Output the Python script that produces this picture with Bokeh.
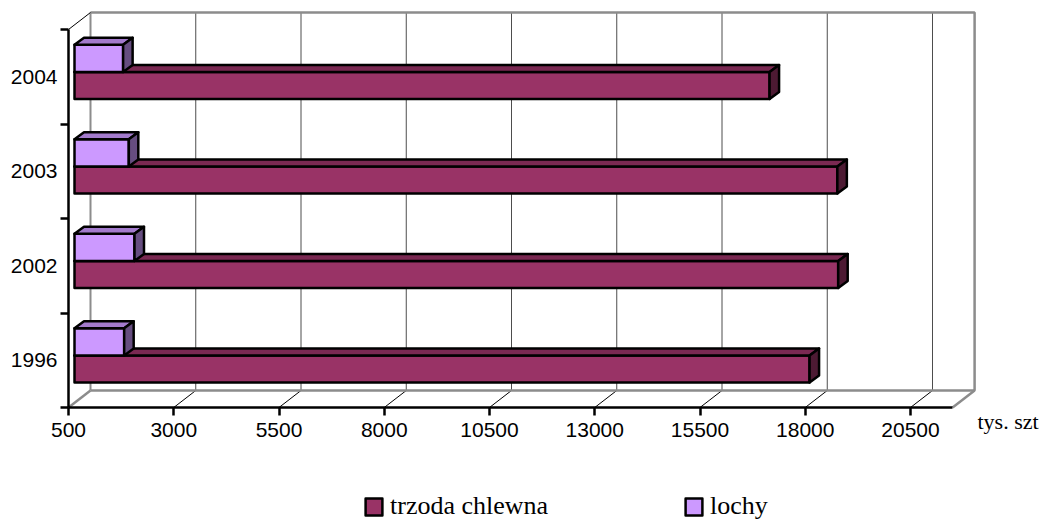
from bokeh.plotting import figure
from bokeh.embed import file_html
from bokeh.resources import INLINE
from bokeh.models import Range1d, LinearAxis, FixedTicker, Legend, LegendItem, Label

years = ["1996", "2002", "2003", "2004"]
trzoda = [17960, 18640, 18620, 17010]
lochy = [1680, 1925, 1790, 1655]
x_ticks = [500, 3000, 5500, 8000, 10500, 13000, 15500, 18000, 20500]
x_labels = ["500", "3000", "5500", "8000", "10500", "13000", "15500", "18000", "20500"]
x_min, x_max = 500, 21500

W, H = 1043, 519
ux = 0.0421   # px per value unit
uy = 94.5     # px per category
ax_x, ax_y = 68, 407   # canvas position of the axes origin

wall_dx, wall_dy = 22 / ux, 17 / uy
bar_dx, bar_dy = 9.5 / ux, 7 / uy
bar_off = 6 / ux    # the bars stand a little way into the depth of the chart
b0, b1, b2 = 0.265, 0.55, 0.838

p = figure(width=W, height=H, output_backend="svg", toolbar_location=None,
           x_range=Range1d(x_min - ax_x / ux, x_min + (W - ax_x) / ux),
           y_range=Range1d(-(H - ax_y) / uy, ax_y / uy),
           x_axis_location=None, y_axis_location=None, min_border=0)
p.xgrid.visible = False
p.ygrid.visible = False
p.outline_line_color = None

GRAY = "#8c8c8c"
# grid lines on the back wall + thin floor connectors
gx = x_ticks[1:]
p.segment([v + wall_dx for v in gx], [wall_dy] * len(gx), [v + wall_dx for v in gx], [4 + wall_dy] * len(gx),
          line_color="#4d4d4d", line_width=1)
p.segment(gx, [0] * len(gx), [v + wall_dx for v in gx], [wall_dy] * len(gx), line_color="black", line_width=1)
# walls
p.line([x_min + wall_dx, x_min + wall_dx], [wall_dy, 4 + wall_dy], line_color=GRAY, line_width=2)
p.line([x_min + wall_dx, x_max + wall_dx, x_max + wall_dx, x_min + wall_dx],
       [4 + wall_dy, 4 + wall_dy, wall_dy, wall_dy], line_color=GRAY, line_width=2.5)
p.line([x_min, x_min + wall_dx], [0, wall_dy], line_color=GRAY, line_width=2.5)
p.line([x_max, x_max + wall_dx], [0, wall_dy], line_color=GRAY, line_width=2.5)
p.line([x_min, x_min + wall_dx], [4, 4 + wall_dy], line_color="black", line_width=1)


def bars(vals, lo, hi, front, top, side):
    x0 = x_min + bar_off
    xs = [v + bar_off for v in vals]
    r = p.quad(left=[x0] * 4, right=xs, bottom=[i + lo for i in range(4)], top=[i + hi for i in range(4)],
               fill_color=front, line_color="black", line_width=2.5, line_join="round")
    p.patches([[x0, v, v + bar_dx, x0 + bar_dx] for v in xs],
              [[i + hi, i + hi, i + hi + bar_dy, i + hi + bar_dy] for i in range(4)],
              fill_color=top, line_color="black", line_width=2.5, line_join="round")
    p.patches([[v, v + bar_dx, v + bar_dx, v] for v in xs],
              [[i + lo, i + lo + bar_dy, i + hi + bar_dy, i + hi] for i in range(4)],
              fill_color=side, line_color="black", line_width=2.5, line_join="round")
    return r


r1 = bars(trzoda, b0, b1, "#993366", "#7a2952", "#4d1a33")
r2 = bars(lochy, b1, b2, "#cc99ff", "#a37acc", "#664d80")

# value axis
xa = LinearAxis(fixed_location=0, bounds=(x_min, x_max), ticker=FixedTicker(ticks=x_ticks),
                major_label_overrides=dict(zip(x_ticks, x_labels)),
                axis_line_color="black", axis_line_width=2.5,
                major_tick_line_color="black", major_tick_line_width=2.5,
                major_tick_in=0, major_tick_out=8, minor_tick_line_color=None,
                major_label_standoff=7, major_label_text_font="Liberation Sans",
                major_label_text_font_size="21px", major_label_text_color="black")
p.add_layout(xa, "below")
# category axis: ticks on the band boundaries
ya = LinearAxis(fixed_location=x_min, bounds=(0, 4), ticker=FixedTicker(ticks=[0, 1, 2, 3, 4]),
                axis_line_color="black", axis_line_width=2.5,
                major_tick_line_color="black", major_tick_line_width=2.5,
                major_tick_in=0, major_tick_out=8, minor_tick_line_color=None,
                major_label_text_color=None, major_label_text_font_size="1px")
p.add_layout(ya, "left")
# category labels in the band centres
yl = LinearAxis(fixed_location=x_min, ticker=FixedTicker(ticks=[0.5, 1.5, 2.5, 3.5]),
                major_label_overrides={i + 0.5: y for i, y in enumerate(years)},
                axis_line_color=None, major_tick_line_color=None, minor_tick_line_color=None,
                major_tick_in=0, major_tick_out=0, major_label_standoff=11,
                major_label_text_font="Liberation Sans", major_label_text_font_size="21px",
                major_label_text_color="black")
p.add_layout(yl, "left")

p.add_layout(Label(x=977, y=86, x_units="screen", y_units="screen", text="tys. szt",
                   text_font="Liberation Serif", text_font_size="22px", text_color="black"))

legend = Legend(items=[LegendItem(label="trzoda chlewna", renderers=[r1]),
                       LegendItem(label="lochy", renderers=[r2])],
                orientation="horizontal", location=(363, -2), glyph_width=21, glyph_height=21,
                label_standoff=6, spacing=135, padding=0, margin=0,
                border_line_color=None, background_fill_color=None,
                label_text_font="Liberation Serif", label_text_font_size="26px",
                label_text_color="black")
p.add_layout(legend)

open("out.html", "w").write(file_html(p, INLINE))
